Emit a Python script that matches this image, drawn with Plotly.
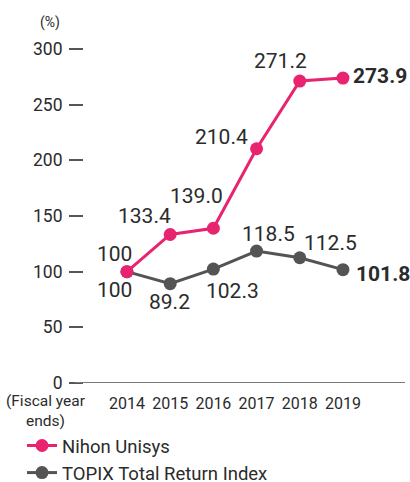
import plotly.graph_objects as go

years = ["2014", "2015", "2016", "2017", "2018", "2019"]
nihon = [100, 133.4, 139.0, 210.4, 271.2, 273.9]
topix = [100, 89.2, 102.3, 118.5, 112.5, 101.8]
nihon_labels = ["100", "133.4", "139.0", "210.4", "271.2", "273.9"]
topix_labels = ["100", "89.2", "102.3", "118.5", "112.5", "101.8"]
y_ticks = [0, 50, 100, 150, 200, 250, 300]

PINK = "#E8236F"
GRAY = "#545454"
TXT = "#2b2b2b"
FONT = "Roboto"

fig = go.Figure()
fig.add_trace(go.Scatter(x=years, y=topix, mode="lines+markers", name="TOPIX Total Return Index",
                         line=dict(color=GRAY, width=3), marker=dict(size=13, color=GRAY),
                         cliponaxis=False, legendrank=2))
fig.add_trace(go.Scatter(x=years, y=nihon, mode="lines+markers", name="Nihon Unisys",
                         line=dict(color=PINK, width=3), marker=dict(size=13, color=PINK),
                         cliponaxis=False, legendrank=1))

# label offsets (pixels) relative to each marker
n_off = [(-12, 18), (-26, 18), (-17, 32), (-35, 12), (-19, 20), (37, 2)]
t_off = [(-12, -18), (-1, -18), (19, -22), (12, 17), (31, 15), (40, -4)]
ann = []
for i, (v, lab) in enumerate(zip(nihon, nihon_labels)):
    bold = i == len(years) - 1
    ann.append(dict(x=i, y=v, xref="x", yref="y", text=f"<b>{lab}</b>" if bold else lab,
                    showarrow=False, xshift=n_off[i][0], yshift=n_off[i][1],
                    font=dict(family=FONT, size=21, color=TXT)))
for i, (v, lab) in enumerate(zip(topix, topix_labels)):
    bold = i == len(years) - 1
    ann.append(dict(x=i, y=v, xref="x", yref="y", text=f"<b>{lab}</b>" if bold else lab,
                    showarrow=False, xshift=t_off[i][0], yshift=t_off[i][1],
                    font=dict(family=FONT, size=21, color=TXT)))

W, H = 410, 482
L, R, T, B = 84, 5, 49, 99
pw, ph = W - L - R, H - T - B

ann.append(dict(x=(50 - L) / pw, y=(H - B - 23) / ph, xref="paper", yref="paper", text="(%)",
                showarrow=False, font=dict(family=FONT, size=14, color=TXT), xanchor="center", yanchor="middle"))
ann.append(dict(x=(46 - L) / pw, y=-(411 - (H - B)) / ph, xref="paper", yref="paper",
                text="(Fiscal year<br>ends)", showarrow=False, align="center",
                font=dict(family=FONT, size=15.5, color=TXT), xanchor="center", yanchor="middle"))

fig.update_layout(
    width=W, height=H, margin=dict(l=L, r=R, t=T, b=B, autoexpand=False),
    paper_bgcolor="white", plot_bgcolor="white",
    font=dict(family=FONT, color=TXT),
    annotations=ann,
    shapes=[dict(type="line", xref="paper", yref="y", x0=(75 - L) / pw, x1=1, y0=0, y1=0,
                 line=dict(color="#7a7a7a", width=2))],
    showlegend=True,
    legend=dict(x=(22 - L) / pw, y=-(427 - (H - B)) / ph, xanchor="left", yanchor="top",
                font=dict(family=FONT, size=18.5, color=TXT), bgcolor="rgba(0,0,0,0)",
                tracegroupgap=0, itemwidth=30),
)
fig.update_xaxes(type="category", range=[-0.995, 6.436], showgrid=False, zeroline=False,
                 showline=False, ticks="", tickfont=dict(family=FONT, size=16, color=TXT),
                 ticklabelstandoff=9)
fig.update_yaxes(range=[0, 300], tickvals=y_ticks, showgrid=False, zeroline=False, showline=False,
                 ticks="outside", ticklen=14, tickwidth=1.5, tickcolor="#555",
                 tickfont=dict(family=FONT, size=17.5, color=TXT), ticklabelstandoff=3)

fig.write_html("out.html")
